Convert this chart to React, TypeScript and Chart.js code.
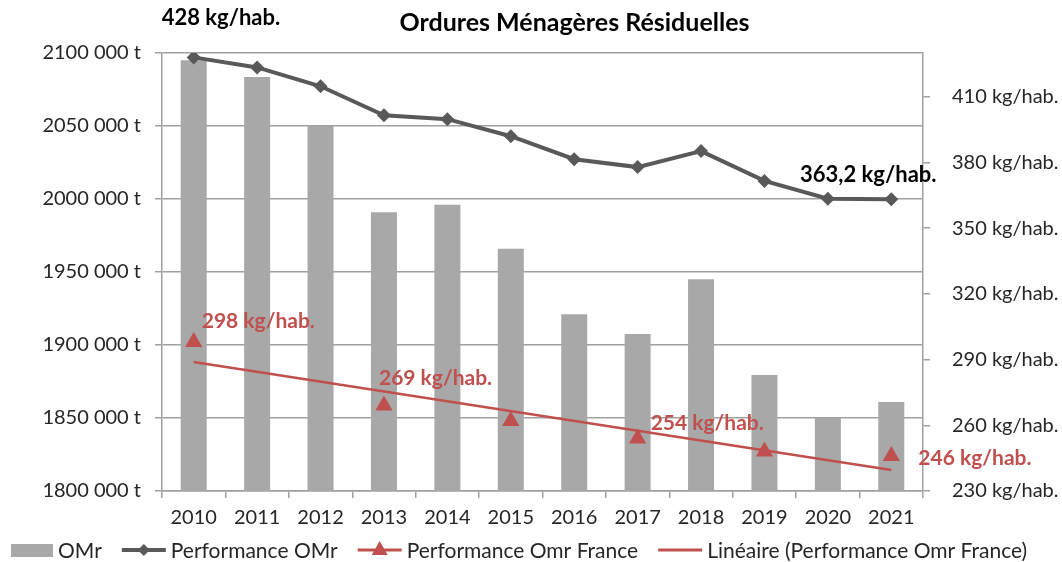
import React, { useEffect, useRef } from "react";
import { Chart, registerables } from "chart.js";

Chart.register(...registerables);

const years = ["2010", "2011", "2012", "2013", "2014", "2015", "2016", "2017", "2018", "2019", "2020", "2021"];
const omrTonnes = [2095000, 2083500, 2050000, 1991000, 1996000, 1966000, 1921000, 1907500, 1945000, 1879500, 1850000, 1861000];
const perfOmr = [428, 423.4, 414.8, 401.6, 399.8, 392, 381.5, 377.9, 385.2, 371.6, 363.5, 363.2];
const perfFrance = [298, null, null, 269, null, 262, null, 254, null, 248, null, 246];
const trendFrance = [288.9, null, null, null, null, null, null, null, null, null, null, 239.6];
const leftTicks = [1800000, 1850000, 1900000, 1950000, 2000000, 2050000, 2100000];
const rightTicks = [230, 260, 290, 320, 350, 380, 410];

const TITLE = "Ordures Ménagères Résiduelles";
const seriesNames = ["OMr", "Performance OMr", "Performance Omr France", "Linéaire (Performance Omr France)"];

// annotations: [datasetIndex, pointIndex, text, dx, dy, align, color, size]
const annotations: [number, number, string, number, number, CanvasTextAlign, string, number][] = [
  [1, 0, "428 kg/hab.", -32, -39, "left", "#000000", 22],
  [1, 11, "363,2 kg/hab.", -23, -24, "center", "#000000", 22],
  [2, 0, "298 kg/hab.", 8, -21, "left", "#c0504d", 21],
  [2, 3, "269 kg/hab.", -5, -27, "left", "#c0504d", 21],
  [2, 7, "254 kg/hab.", 13, -15, "left", "#c0504d", 21],
  [2, 11, "246 kg/hab.", 27, 2, "left", "#c0504d", 21],
];

const FONT = "Lato, 'Open Sans', sans-serif";
const GREY_BAR = "#a8a8a8";
const DARK = "#595959";
const RED = "#c0504d";
const GRID = "#a0a0a0";

const fmtTonnes = (v: number) => {
  const th = Math.floor(v / 1000);
  const rest = String(Math.round(v % 1000)).padStart(3, "0");
  return `${th} ${rest} t`;
};

const overlayPlugin = {
  id: "overlay",
  afterDraw(chart: any) {
    const ctx = chart.ctx;
    const area = chart.chartArea;
    ctx.save();
    // title
    ctx.fillStyle = "#000";
    ctx.font = `bold 25px ${FONT}`;
    ctx.textAlign = "center";
    ctx.textBaseline = "middle";
    ctx.fillText(TITLE, (area.left + area.right) / 2 + 32, area.top - 30);
    // annotations
    annotations.forEach(([di, pi, text, dx, dy, align, color, size]) => {
      const el = chart.getDatasetMeta(di).data[pi];
      if (!el) return;
      ctx.font = `bold ${size}px ${FONT}`;
      ctx.fillStyle = color;
      ctx.textAlign = align;
      ctx.fillText(text, el.x + dx, el.y + dy);
    });
    // legend
    const ly = chart.height - 12;
    let x = 11;
    ctx.font = `21px ${FONT}`;
    ctx.textAlign = "left";
    chart.data.datasets.forEach((ds: any, i: number) => {
      const w = 44;
      if (i === 0) {
        ctx.fillStyle = ds.backgroundColor;
        ctx.fillRect(x, ly - 6, 42, 13);
      } else {
        ctx.strokeStyle = ds.borderColor;
        ctx.lineWidth = i === 1 ? 4 : 3;
        ctx.beginPath();
        ctx.moveTo(x, ly);
        ctx.lineTo(x + w, ly);
        ctx.stroke();
        if (i === 1) {
          ctx.fillStyle = ds.pointBackgroundColor;
          ctx.beginPath();
          ctx.moveTo(x + w / 2, ly - 6);
          ctx.lineTo(x + w / 2 + 6, ly);
          ctx.lineTo(x + w / 2, ly + 6);
          ctx.lineTo(x + w / 2 - 6, ly);
          ctx.closePath();
          ctx.fill();
        } else if (i === 2) {
          ctx.fillStyle = ds.pointBackgroundColor;
          ctx.beginPath();
          ctx.moveTo(x + w / 2, ly - 9);
          ctx.lineTo(x + w / 2 + 8, ly + 5);
          ctx.lineTo(x + w / 2 - 8, ly + 5);
          ctx.closePath();
          ctx.fill();
        }
      }
      x += (i === 0 ? 42 : w) + 5;
      ctx.fillStyle = "#262626";
      ctx.fillText(ds.label, x, ly + 1);
      x += ctx.measureText(ds.label).width + 20;
    });
    ctx.restore();
  },
};

export default function App() {
  const ref = useRef<HTMLCanvasElement | null>(null);
  useEffect(() => {
    if (!ref.current) return;
    Chart.defaults.font.family = FONT;
    const chart = new Chart(ref.current, {
      type: "bar",
      data: {
        labels: years,
        datasets: [
          {
            type: "bar",
            label: seriesNames[0],
            data: omrTonnes,
            yAxisID: "y",
            backgroundColor: GREY_BAR,
            barPercentage: 0.41,
            categoryPercentage: 1,
            order: 4,
          } as any,
          {
            type: "line",
            label: seriesNames[1],
            data: perfOmr,
            yAxisID: "y1",
            borderColor: DARK,
            borderWidth: 4,
            pointStyle: "rectRot",
            pointRadius: 7,
            pointBackgroundColor: DARK,
            pointBorderColor: DARK,
            pointBorderWidth: 0,
            tension: 0,
            order: 1,
          },
          {
            type: "line",
            label: seriesNames[2],
            data: perfFrance,
            yAxisID: "y1",
            borderColor: RED,
            showLine: false,
            pointStyle: "triangle",
            pointRadius: 10,
            pointBackgroundColor: RED,
            pointBorderColor: RED,
            pointBorderWidth: 0,
            order: 2,
          },
          {
            type: "line",
            label: seriesNames[3],
            data: trendFrance,
            yAxisID: "y1",
            borderColor: RED,
            borderWidth: 2.5,
            pointRadius: 0,
            spanGaps: true,
            order: 3,
          },
        ],
      },
      options: {
        responsive: false,
        animation: false,
        layout: { padding: { top: 53, left: 0, right: 0, bottom: 0 } },
        plugins: {
          legend: { display: false },
          title: { display: false },
          tooltip: { enabled: false },
        },
        scales: {
          x: {
            offset: true,
            grid: {
              offset: true,
              drawOnChartArea: false,
              tickLength: 7,
              color: GRID,
              lineWidth: 1.5,
            },
            border: { display: true, color: GRID, width: 1.5 },
            ticks: { color: "#262626", font: { size: 20, family: FONT }, padding: 8, maxRotation: 0 },
            afterFit: (s: any) => {
              s.height = 71;
            },
          },
          y: {
            position: "left",
            min: 1800000,
            max: 2100000,
            afterBuildTicks: (s: any) => {
              s.ticks = leftTicks.map((v) => ({ value: v }));
            },
            grid: { color: GRID, lineWidth: 1.5, tickLength: 7 },
            border: { display: true, color: GRID, width: 1.5 },
            ticks: {
              color: "#262626",
              font: { size: 20, family: FONT },
              padding: 14,
              callback: (v: any) => fmtTonnes(Number(v)),
            },
            afterFit: (s: any) => {
              s.width = 162;
            },
          },
          y1: {
            position: "right",
            min: 230,
            max: 430,
            afterBuildTicks: (s: any) => {
              s.ticks = rightTicks.map((v) => ({ value: v }));
            },
            grid: { drawOnChartArea: false, color: GRID, lineWidth: 1.5, tickLength: 7 },
            border: { display: true, color: GRID, width: 1.5 },
            ticks: {
              color: "#262626",
              font: { size: 20, family: FONT },
              padding: 22,
              callback: (v: any) => `${v} kg/hab.`,
            },
            afterFit: (s: any) => {
              s.width = 139;
            },
          },
        },
      },
      plugins: [overlayPlugin],
    });
    return () => chart.destroy();
  }, []);
  return (
    <canvas
      ref={ref}
      width={1062}
      height={562}
      style={{ position: "absolute", left: 0, top: 0, display: "block" }}
    />
  );
}
